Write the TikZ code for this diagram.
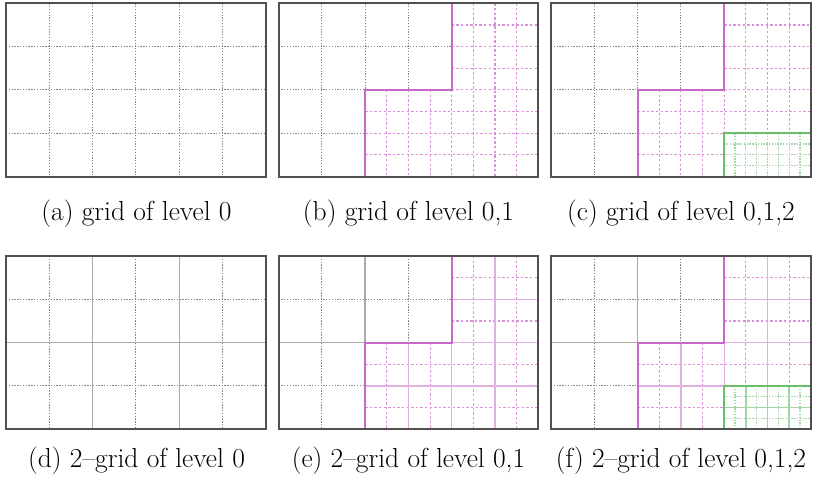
\documentclass[tikz,border=0pt]{standalone}
\usepackage{fontspec}
\definecolor{gdot}{RGB}{135,135,135}
\definecolor{gsolid}{RGB}{170,170,170}
\definecolor{framec}{RGB}{80,80,80}
\definecolor{mag}{RGB}{200,105,200}
\definecolor{maglight}{RGB}{225,175,225}
\definecolor{magdash}{RGB}{218,145,218}
\definecolor{grn}{RGB}{105,190,105}
\definecolor{grnlight}{RGB}{160,215,160}
\tikzset{
  lvz/.style={gdot, line width=1.1pt, dash pattern=on 1.3pt off 1.5pt},
  lvzsolid/.style={gsolid, line width=1.3pt},
  lvone/.style={magdash, line width=1.1pt, dash pattern=on 2.4pt off 2.2pt},
  lvonesolid/.style={maglight, line width=1.4pt},
  bndone/.style={mag, line width=1.8pt},
  lvtwo/.style={grnlight, line width=1.1pt, dash pattern=on 1.3pt off 1.5pt},
  lvtwosolid/.style={grnlight, line width=1.4pt},
  bndtwo/.style={grn, line width=1.8pt},
  framebox/.style={framec, line width=2pt},
  captext/.style={font=\fontsize{27.5}{31}\selectfont, inner sep=0pt},
  panel/.style={x=43.3pt, y=-43.3pt}
}
\begin{document}
\begin{tikzpicture}[x=1pt,y=-1pt]
\useasboundingbox (0,0) rectangle (813,482);

% ---------- (a) ----------
\begin{scope}[shift={(6pt,-3.3pt)}, panel]
  \foreach \i in {1,...,5} \draw[lvz] (\i,0) -- (\i,4);
  \foreach \j in {1,2,3} \draw[lvz] (0,\j) -- (6,\j);
  \draw[framebox] (0,0) rectangle (6,4);
\end{scope}

% ---------- (b) ----------
\begin{scope}[shift={(278.5pt,-3.3pt)}, panel]
  \draw[lvz] (1,0) -- (1,4) (2,0) -- (2,2) (3,0) -- (3,2);
  \draw[lvz] (0,1) -- (4,1) (0,2) -- (2,2) (0,3) -- (2,3);
  \foreach \i in {2.5,3,3.5,4} \draw[lvone] (\i,2) -- (\i,4);
  \foreach \i in {4.5,5,5.5} \draw[lvone] (\i,0) -- (\i,4);
  \foreach \j in {0.5,1,1.5,2} \draw[lvone] (4,\j) -- (6,\j);
  \foreach \j in {2.5,3,3.5} \draw[lvone] (2,\j) -- (6,\j);
  \draw[bndone] (4,0) -- (4,2) -- (2,2) -- (2,4);
  \draw[framebox] (0,0) rectangle (6,4);
\end{scope}

% ---------- (c) ----------
\begin{scope}[shift={(551pt,-3.3pt)}, panel]
  \draw[lvz] (1,0) -- (1,4) (2,0) -- (2,2) (3,0) -- (3,2);
  \draw[lvz] (0,1) -- (4,1) (0,2) -- (2,2) (0,3) -- (2,3);
  \foreach \i in {2.5,3,3.5} \draw[lvone] (\i,2) -- (\i,4);
  \draw[lvone] (4,2) -- (4,3);
  \foreach \i in {4.5,5,5.5} \draw[lvone] (\i,0) -- (\i,3);
  \foreach \j in {0.5,1,1.5,2} \draw[lvone] (4,\j) -- (6,\j);
  \draw[lvone] (2,2.5) -- (6,2.5);
  \foreach \j in {3,3.5} \draw[lvone] (2,\j) -- (4,\j);
  \foreach \i in {4.25,4.5,4.75,5,5.25,5.5,5.75} \draw[lvtwo] (\i,3) -- (\i,4);
  \foreach \j in {3.25,3.5,3.75} \draw[lvtwo] (4,\j) -- (6,\j);
  \draw[bndone] (4,0) -- (4,2) -- (2,2) -- (2,4);
  \draw[bndtwo] (4,4) -- (4,3) -- (6,3);
  \draw[framebox] (0,0) rectangle (6,4);
\end{scope}

% ---------- (d) ----------
\begin{scope}[shift={(6pt,-256pt)}, panel]
  \foreach \i in {1,3,5} \draw[lvz] (\i,0) -- (\i,4);
  \foreach \j in {1,3} \draw[lvz] (0,\j) -- (6,\j);
  \foreach \i in {2,4} \draw[lvzsolid] (\i,0) -- (\i,4);
  \draw[lvzsolid] (0,2) -- (6,2);
  \draw[framebox] (0,0) rectangle (6,4);
\end{scope}

% ---------- (e) ----------
\begin{scope}[shift={(278.5pt,-256pt)}, panel]
  \draw[lvz] (1,0) -- (1,4) (3,0) -- (3,2);
  \draw[lvz] (0,1) -- (4,1) (0,3) -- (2,3);
  \draw[lvzsolid] (2,0) -- (2,2) (0,2) -- (2,2);
  \foreach \i in {2.5,3.5} \draw[lvone] (\i,2) -- (\i,4);
  \foreach \i in {4.5,5.5} \draw[lvone] (\i,0) -- (\i,4);
  \foreach \j in {0.5,1.5} \draw[lvone] (4,\j) -- (6,\j);
  \foreach \j in {2.5,3.5} \draw[lvone] (2,\j) -- (6,\j);
  \draw[lvonesolid] (3,2) -- (3,4) (4,2) -- (4,4) (5,0) -- (5,4);
  \draw[lvonesolid] (4,1) -- (6,1) (4,2) -- (6,2) (2,3) -- (6,3);
  \draw[bndone] (4,0) -- (4,2) -- (2,2) -- (2,4);
  \draw[framebox] (0,0) rectangle (6,4);
\end{scope}

% ---------- (f) ----------
\begin{scope}[shift={(551pt,-256pt)}, panel]
  \draw[lvz] (1,0) -- (1,4) (3,0) -- (3,2);
  \draw[lvz] (0,1) -- (4,1) (0,3) -- (2,3);
  \draw[lvzsolid] (2,0) -- (2,2) (0,2) -- (2,2);
  \foreach \i in {2.5,3.5} \draw[lvone] (\i,2) -- (\i,4);
  \foreach \i in {4.5,5.5} \draw[lvone] (\i,0) -- (\i,3);
  \foreach \j in {0.5,1.5} \draw[lvone] (4,\j) -- (6,\j);
  \draw[lvone] (2,2.5) -- (6,2.5);
  \draw[lvone] (2,3.5) -- (4,3.5);
  \draw[lvonesolid] (3,2) -- (3,4) (4,2) -- (4,3) (5,0) -- (5,3);
  \draw[lvonesolid] (4,1) -- (6,1) (4,2) -- (6,2) (2,3) -- (4,3);
  \foreach \i in {4.25,4.75,5.25,5.75} \draw[lvtwo] (\i,3) -- (\i,4);
  \foreach \j in {3.25,3.75} \draw[lvtwo] (4,\j) -- (6,\j);
  \draw[lvtwosolid] (4.5,3) -- (4.5,4) (5,3) -- (5,4) (5.5,3) -- (5.5,4);
  \draw[lvtwosolid] (4,3.5) -- (6,3.5);
  \draw[bndone] (4,0) -- (4,2) -- (2,2) -- (2,4);
  \draw[bndtwo] (4,4) -- (4,3) -- (6,3);
  \draw[framebox] (0,0) rectangle (6,4);
\end{scope}

% ---------- captions ----------
\node[captext] (capa) at (136.5,214) {(a) grid of level 0};
\node[captext] (capb) at (408.5,214) {(b) grid of level 0,1};
\node[captext] (capc) at (681,214) {(c) grid of level 0,1,2};
\node[captext] (capd) at (136.5,461) {(d) 2--grid of level 0};
\node[captext] (cape) at (408.5,461) {(e) 2--grid of level 0,1};
\node[captext] (capf) at (681,461) {(f) 2--grid of level 0,1,2};
\end{tikzpicture}
\end{document}
